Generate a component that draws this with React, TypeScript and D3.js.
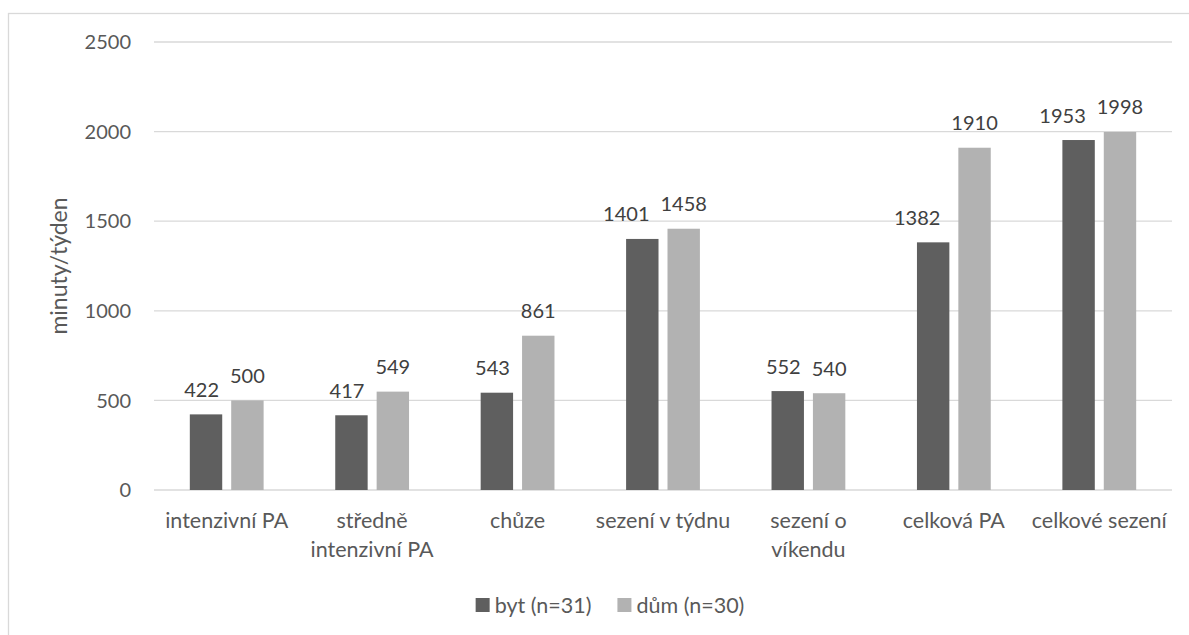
import React, { useEffect, useRef } from 'react';
import * as d3 from 'd3';

const categories = [
  'intenzivní PA',
  'středně intenzivní PA',
  'chůze',
  'sezení v týdnu',
  'sezení o víkendu',
  'celková PA',
  'celkové sezení',
];
const seriesNames = ['byt (n=31)', 'dům (n=30)'];
const bytValues = [422, 417, 543, 1401, 552, 1382, 1953];
const dumValues = [500, 549, 861, 1458, 540, 1910, 1998];
const yTicks = [0, 500, 1000, 1500, 2000, 2500];
const yTitle = 'minuty/týden';
const seriesColors = ['#5f5f5f', '#b2b2b2'];

export default function App() {
  const ref = useRef<SVGSVGElement>(null);

  useEffect(() => {
    const svg = d3.select(ref.current);
    svg.selectAll('*').remove();
    const font = 'Lato, "Open Sans", sans-serif';
    const fsText = 21.5;
    const fsNum = 20;
    const textColor = '#595959';
    const gridColor = '#d9d9d9';
    const left = 154, right = 1172, top = 42, bottom = 490;

    // chart border
    svg.append('rect')
      .attr('x', 8.5).attr('y', 13.5)
      .attr('width', 1300).attr('height', 800)
      .attr('fill', '#fff').attr('stroke', gridColor).attr('stroke-width', 1.3);

    const y = d3.scaleLinear().domain([0, 2500]).range([bottom, top]);
    const p = 1 - 73.8 / ((right - left) / categories.length);
    const x0 = d3.scaleBand<string>().domain(categories).range([left, right])
      .paddingInner(p).paddingOuter(p / 2);
    const x1 = d3.scaleBand<string>().domain(seriesNames).range([0, x0.bandwidth()])
      .paddingInner(0.217);

    // gridlines
    svg.append('g').selectAll('line').data(yTicks).join('line')
      .attr('x1', left).attr('x2', right)
      .attr('y1', (d) => y(d)).attr('y2', (d) => y(d))
      .attr('stroke', gridColor).attr('stroke-width', 1.3);

    // y tick labels
    svg.append('g').selectAll('text').data(yTicks).join('text')
      .attr('x', 131).attr('y', (d) => y(d))
      .attr('dy', '0.36em')
      .attr('text-anchor', 'end')
      .attr('font-family', font).attr('font-size', fsNum).attr('fill', textColor)
      .text((d) => String(d));

    // y title
    svg.append('text')
      .attr('transform', `translate(67,${(top + bottom) / 2}) rotate(-90)`)
      .attr('text-anchor', 'middle')
      .attr('font-family', font).attr('font-size', 23).attr('fill', textColor)
      .text(yTitle);

    const seriesValues = [bytValues, dumValues];
    const data = categories.flatMap((c, i) =>
      seriesNames.map((s, j) => ({ c, s, j, v: seriesValues[j][i] })));

    // bars
    svg.append('g').selectAll('rect').data(data).join('rect')
      .attr('x', (d) => (x0(d.c) as number) + (x1(d.s) as number))
      .attr('width', x1.bandwidth())
      .attr('y', (d) => y(d.v))
      .attr('height', (d) => y(0) - y(d.v))
      .attr('fill', (d) => seriesColors[d.j]);

    // data labels
    const labels = svg.append('g').selectAll('text').data(data).join('text')
      .attr('x', (d) => (x0(d.c) as number) + (x1(d.s) as number) + x1.bandwidth() / 2)
      .attr('y', (d) => y(d.v) - 17.5)
      .attr('text-anchor', 'middle')
      .attr('font-family', font).attr('font-size', fsNum).attr('fill', '#404040')
      .text((d) => String(d.v));

    // avoid overlapping labels within a category: nudge left label leftwards
    const nodes = labels.nodes() as SVGTextElement[];
    for (let i = 0; i < nodes.length; i += 2) {
      const a = nodes[i].getBBox();
      const b = nodes[i + 1].getBBox();
      const minGap = 11;
      const overlap = a.x + a.width + minGap - b.x;
      if (overlap > 0) {
        const cur = parseFloat(nodes[i].getAttribute('x') || '0');
        nodes[i].setAttribute('x', String(cur - overlap));
      }
    }

    // x labels with wrapping
    const step = x0.step();
    const xg = svg.append('g');
    categories.forEach((c) => {
      const cx = (x0(c) as number) + x0.bandwidth() / 2;
      const t = xg.append('text')
        .attr('text-anchor', 'middle')
        .attr('font-family', font).attr('font-size', fsText).attr('fill', textColor);
      const words = c.split(' ');
      const lines: string[] = [];
      let cur: string[] = [];
      const probe = t.append('tspan');
      words.forEach((w) => {
        const test = [...cur, w].join(' ');
        probe.text(test);
        const len = (probe.node() as SVGTSpanElement).getComputedTextLength();
        if (len > step && cur.length) {
          lines.push(cur.join(' '));
          cur = [w];
        } else {
          cur.push(w);
        }
      });
      if (cur.length) lines.push(cur.join(' '));
      probe.remove();
      lines.forEach((ln, k) => {
        t.append('tspan').attr('x', cx).attr('y', 528 + k * 28.5).text(ln);
      });
    });

    // legend
    const lg = svg.append('g');
    const items: { x: number; w: number }[] = [];
    let total = 0;
    const sq = 14, gapSq = 5, gapItem = 26;
    const widths = seriesNames.map((s) => {
      const tt = lg.append('text').attr('font-family', font).attr('font-size', fsText).text(s);
      const w = (tt.node() as SVGTextElement).getComputedTextLength();
      tt.remove();
      return w;
    });
    widths.forEach((w, i) => {
      items.push({ x: total, w });
      total += sq + gapSq + w + (i < widths.length - 1 ? gapItem : 0);
    });
    const startX = 610 - total / 2;
    seriesNames.forEach((s, i) => {
      const ix = startX + items[i].x;
      lg.append('rect').attr('x', ix).attr('y', 598).attr('width', sq).attr('height', sq)
        .attr('fill', seriesColors[i]);
      lg.append('text').attr('x', ix + sq + gapSq).attr('y', 605).attr('dy', '0.36em')
        .attr('font-family', font).attr('font-size', fsText).attr('fill', textColor)
        .text(s);
    });
  }, []);

  return (
    <svg
      ref={ref}
      width={1189}
      height={635}
      style={{ position: 'absolute', left: 0, top: 0, background: '#fff' }}
    />
  );
}
